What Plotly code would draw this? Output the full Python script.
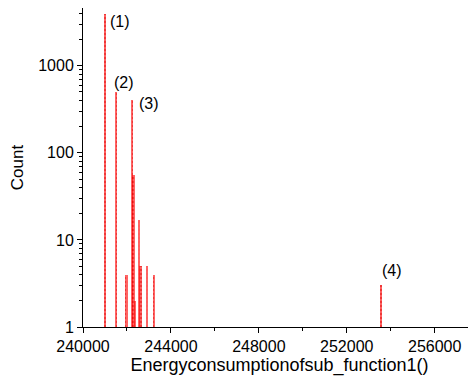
import plotly.graph_objects as go
import math

# Data
energy = [241000, 241500, 241980, 242230, 242300, 242355, 242530, 242620, 242920, 243230, 253560]
counts = [3900, 500, 4, 400, 56, 2, 17, 5, 5, 4, 3]

labels = ["(1)", "(2)", "(3)", "(4)"]
label_x = [241700, 241880, 243010, 254050]
label_count = [3200, 650, 365, 4.4]

x_tickvals = [240000, 244000, 248000, 252000, 256000]
y_tickvals = [1, 10, 100, 1000]

fig = go.Figure()
fig.add_trace(go.Bar(
    x=energy, y=counts, width=100,
    marker=dict(color="rgba(255,0,0,0.6)", line=dict(width=0),
                pattern=dict(shape=".", fgcolor="rgba(220,0,0,0.9)", size=4, solidity=0.3)),
))

for t, x, c in zip(labels, label_x, label_count):
    fig.add_annotation(x=x, y=math.log10(c), text=t, showarrow=False, xanchor="center",
                       yanchor="middle", font=dict(size=16, color="black"))

# page body has an 8px margin, so the figure is sized/placed to compensate
fig.update_layout(
    width=468, height=379,
    margin=dict(l=75, r=0, t=0, b=60, pad=0),
    paper_bgcolor="white", plot_bgcolor="white",
    font=dict(family="Liberation Sans, Arial, sans-serif", size=16, color="black"),
    showlegend=False, bargap=0,
)
fig.update_xaxes(
    range=[240000, 257880], tickvals=x_tickvals, ticktext=[str(v) for v in x_tickvals],
    showline=True, linecolor="black", linewidth=1, ticks="outside", ticklen=5,
    tickcolor="black", showgrid=False, zeroline=False, tickfont=dict(size=16),
    minor=dict(ticks="outside", ticklen=3, dtick=2000, tick0=240000, tickcolor="black", showgrid=False),
    title=dict(text="Energyconsumptionofsub_function1()", font=dict(size=18), standoff=1),
)
fig.update_yaxes(
    type="log", range=[0, 3.663], tickvals=y_tickvals, ticktext=[str(v) for v in y_tickvals],
    showline=True, linecolor="black", linewidth=1, ticks="outside", ticklen=5,
    tickcolor="black", showgrid=False, zeroline=False, tickfont=dict(size=16),
    minor=dict(ticks="outside", ticklen=3, dtick="D1", tickcolor="black", showgrid=False),
    title=dict(text="Count", font=dict(size=17), standoff=17),
)

fig.write_html("out.html")
